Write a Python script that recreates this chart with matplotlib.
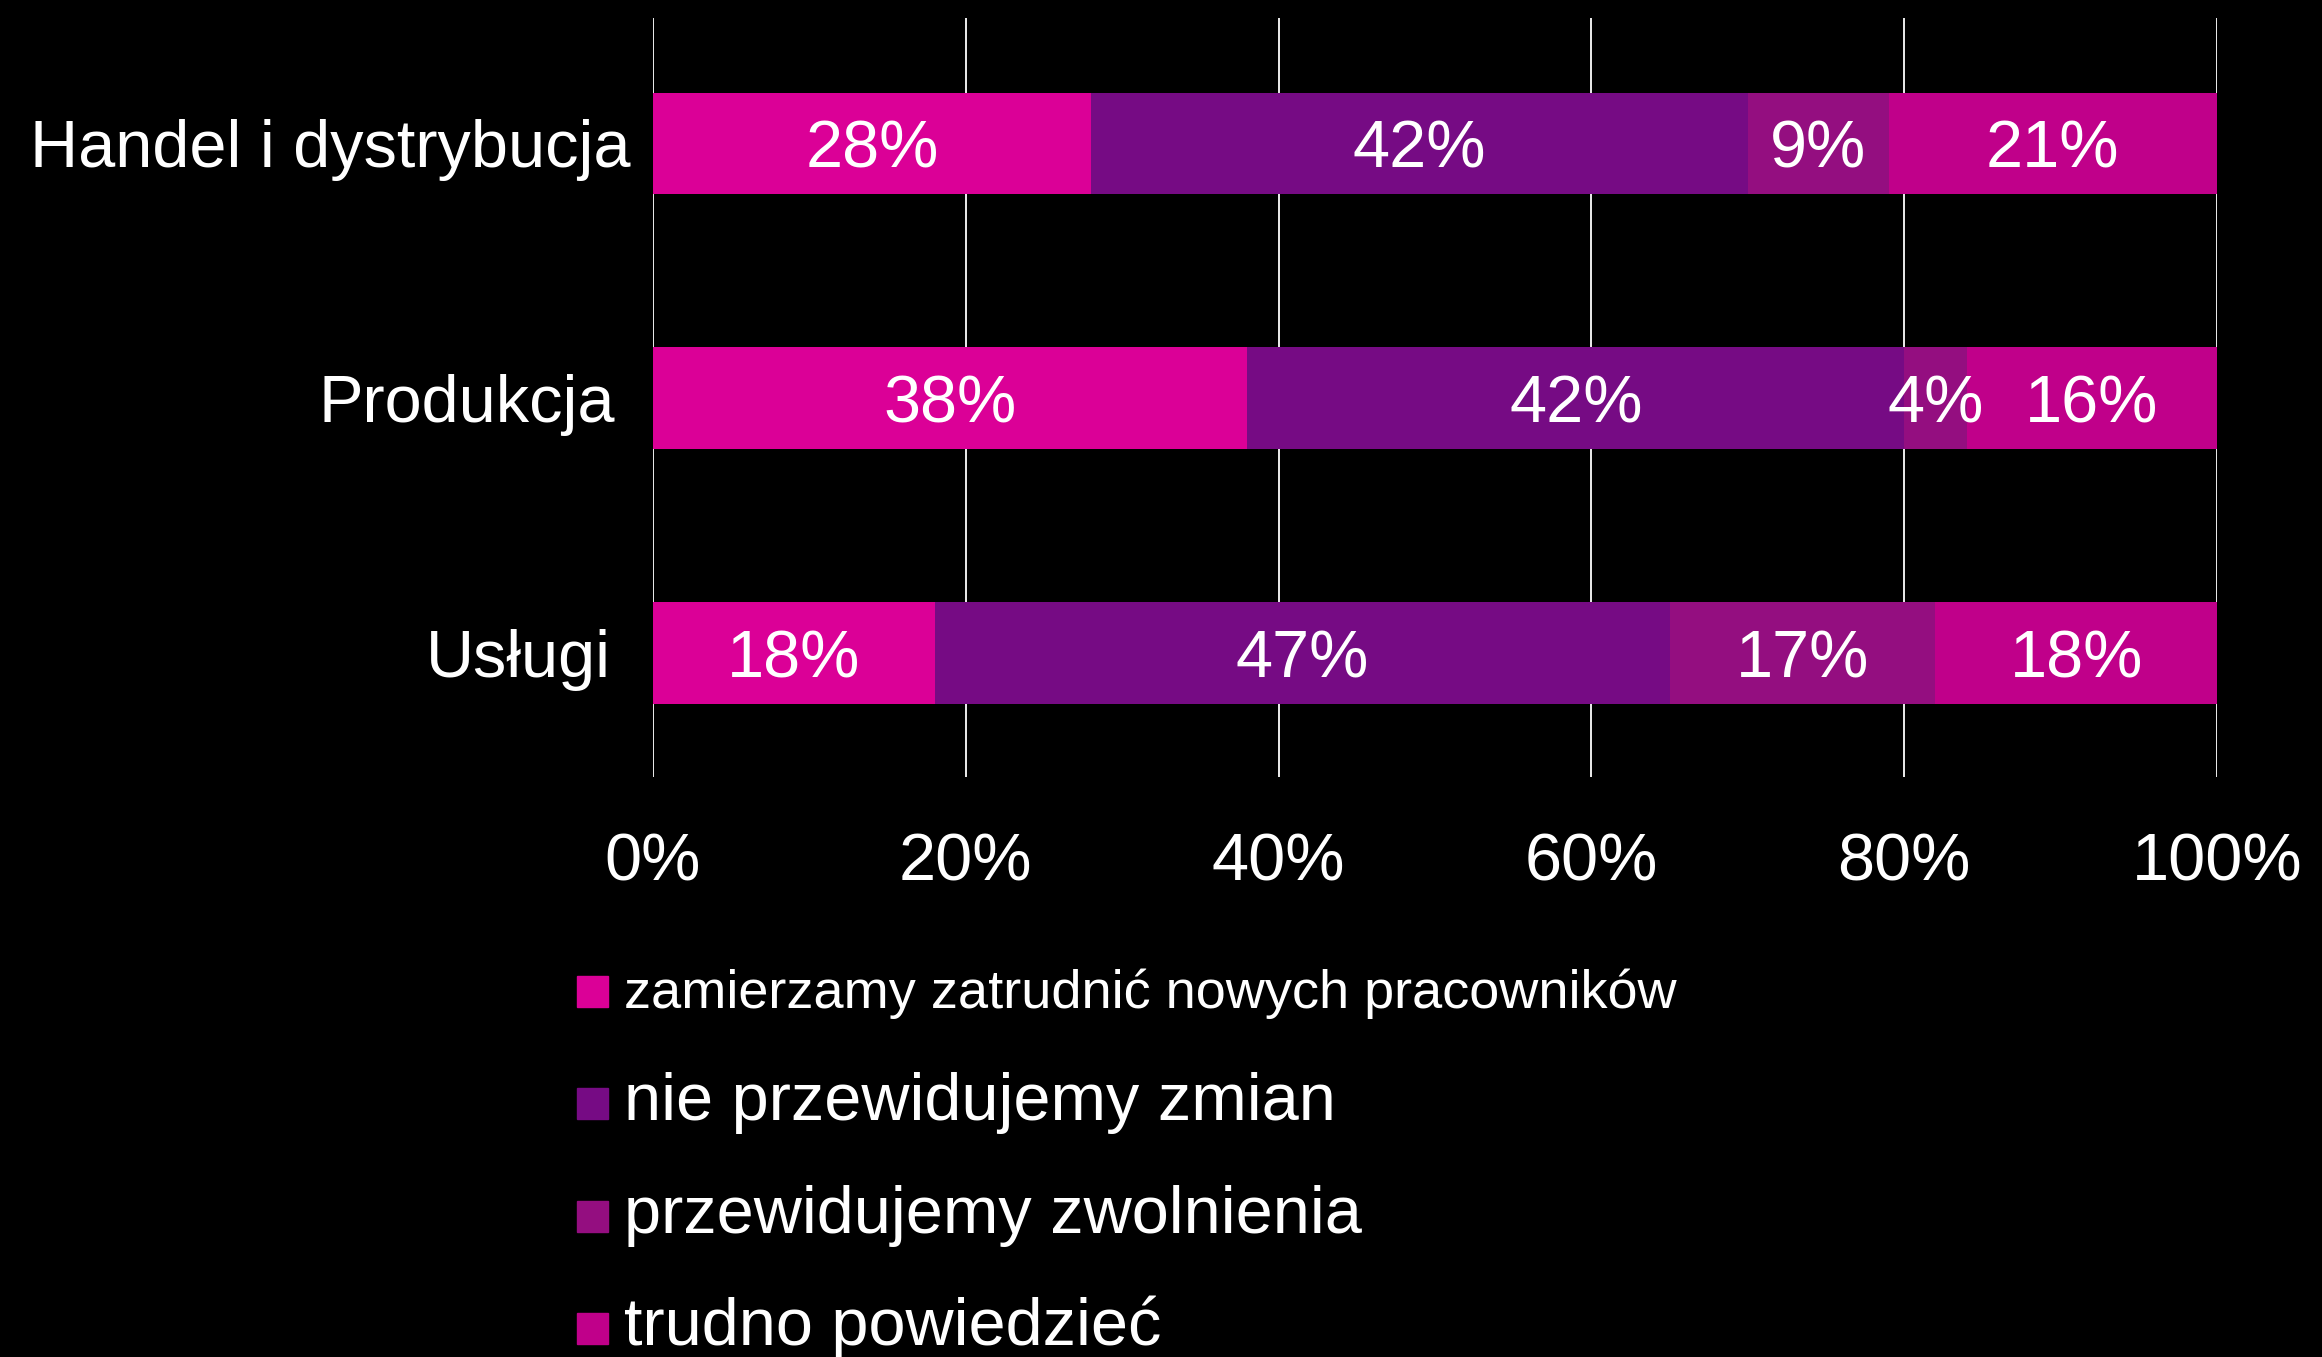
import matplotlib
matplotlib.use("Agg")
import matplotlib.pyplot as plt
from matplotlib.patches import Rectangle
from matplotlib.transforms import ScaledTranslation

plt.rcParams['font.family'] = ['Liberation Sans', 'DejaVu Sans']

# Survey data: employment plans by sector (percent of firms)
categories = ["Handel i dystrybucja", "Produkcja", "Usługi"]
series_names = [
    "zamierzamy zatrudnić nowych pracowników",
    "nie przewidujemy zmian",
    "przewidujemy zwolnienia",
    "trudno powiedzieć",
]
hire = [28, 38, 18]
no_change = [42, 42, 47]
layoffs = [9, 4, 17]
hard_to_say = [21, 16, 18]
series_colors = ["#DB0097", "#760B84", "#940E80", "#C0008A"]
x_ticks = [0, 20, 40, 60, 80, 100]
x_tick_labels = ["0%", "20%", "40%", "60%", "80%", "100%"]

W, H = 2322, 1357
fig = plt.figure(figsize=(W / 100, H / 100), dpi=100, facecolor="black")

# axes box in pixel terms
left_px, right_px, top_px, bottom_px = 653, 2217, 18, 777
ax = fig.add_axes([left_px / W, 1 - bottom_px / H,
                   (right_px - left_px) / W, (bottom_px - top_px) / H])
ax.set_facecolor("black")

series_values = [hire, no_change, layoffs, hard_to_say]
ypos = list(range(len(categories)))
lefts = [0.0] * len(categories)
label_shift = ScaledTranslation(0, -17.5 / 72, fig.dpi_scale_trans)
for vals, color in zip(series_values, series_colors):
    ax.barh(ypos, vals, left=lefts, height=0.4, color=color, zorder=2)
    for y, l, v in zip(ypos, lefts, vals):
        ax.text(l + v / 2, y, f"{v}%", ha="center", va="baseline",
                color="white", fontsize=48, zorder=3,
                transform=ax.transData + label_shift)
    lefts = [l + v for l, v in zip(lefts, vals)]

ax.set_xlim(0, 100)
ax.set_ylim(2.487, -0.4926)
ax.set_xticks(x_ticks)
ax.set_xticklabels(x_tick_labels)
ax.set_yticks(ypos)
ax.set_yticklabels(categories)
ax.grid(axis="x", color="white", linewidth=1.3, zorder=1)
ax.grid(axis="y", visible=False)
ax.set_axisbelow(True)
for sp in ax.spines.values():
    sp.set_visible(False)
ax.tick_params(axis="x", length=0, pad=40, labelsize=48, labelcolor="white")
ax.tick_params(axis="y", length=0, pad=27, labelsize=48, labelcolor="white")

# small horizontal nudges of the sector labels (points)
label_nudges = [11, 0, -3]
for lab, dx in zip(ax.get_yticklabels(), label_nudges):
    lab.set_transform(lab.get_transform() +
                      ScaledTranslation(dx / 72, 0, fig.dpi_scale_trans))

# legend: colour squares with labels underneath the plot
sq = 31
sq_left = 577
sq_tops = [976, 1088, 1201, 1313]
legend_sizes = [39, 48, 48, 48]
for name, color, top, fs in zip(series_names, series_colors, sq_tops, legend_sizes):
    fig.add_artist(Rectangle((sq_left / W, 1 - (top + sq) / H), sq / W, sq / H,
                             transform=fig.transFigure, color=color))
    fig.text(624 / W, 1 - (top + sq + 1) / H, name, color="white",
             fontsize=fs, ha="left", va="baseline")

fig.savefig("out.png", dpi=100, facecolor="black")
